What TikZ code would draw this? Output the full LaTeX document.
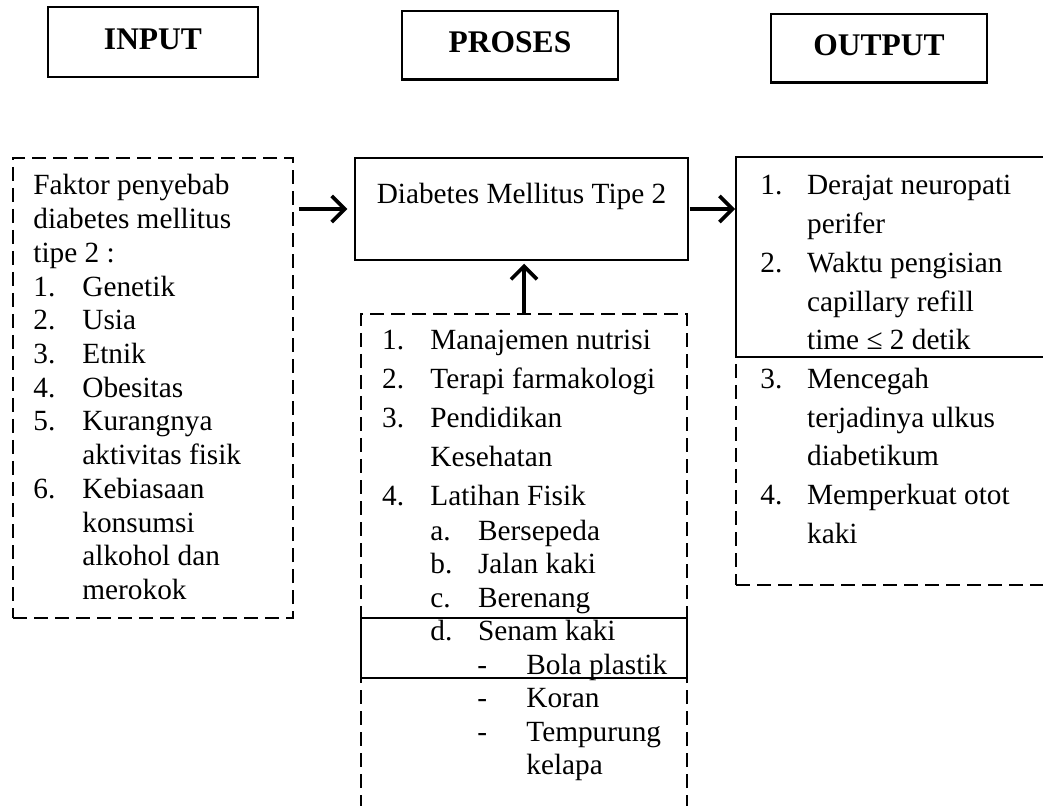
\documentclass[tikz,border=0pt]{standalone}
\usepackage{fontspec}
\setmainfont{Liberation Serif}
\usetikzlibrary{arrows.meta}
\newcommand{\numlbl}[2]{\makebox[#1][l]{#2}}
\begin{document}
\begin{tikzpicture}[x=0.5pt,y=-0.5pt,
  body/.style={anchor=base west,inner sep=0pt,font=\fontsize{14.65}{17}\selectfont},
  hdr/.style={draw,line width=1.2pt,inner sep=0pt,font=\bfseries\fontsize{15.75}{18}\selectfont,text height=7.5pt,text depth=0pt},
  solidbox/.style={draw,line width=0.75pt,inner sep=0pt},
  dashbox/.style={draw,line width=0.8pt,dash pattern=on 7pt off 3.5pt,inner sep=0pt},
  arr/.style={line width=1.8pt,-{Straight Barb[length=6.5pt,width=13pt]}}]
\useasboundingbox (0,0) rectangle (1043,806);
\clip (0,0) rectangle (1043,806);

% headers
\node[hdr,minimum width=105pt,minimum height=35pt] (hin) at (153,42) {INPUT};
\node[hdr,minimum width=108pt,minimum height=34.25pt] (hpr) at (510,45.25) {PROSES};
\node[hdr,minimum width=108pt,minimum height=34.25pt] (hout) at (879,48.25) {OUTPUT};

% boxes
\node[dashbox,minimum width=140pt,minimum height=230pt] (inp) at (153,388) {};
\node[solidbox,minimum width=166.5pt,minimum height=51pt] (dm) at (521.5,209) {};
\node[body,anchor=base] (dmt) at (521.5,203.3) {Diabetes Mellitus Tipe 2};
\node[dashbox,minimum width=163pt,minimum height=263pt] (proc) at (524,577) {};
\node[solidbox,line width=1pt,minimum width=163pt,minimum height=30pt] (senam) at (524,648) {};
\node[dashbox,minimum width=162pt,minimum height=113.75pt] (out2) at (898,471.25) {};
\node[solidbox,line width=1pt,minimum width=162pt,minimum height=100pt] (out1) at (898,257.5) {};

% arrows
\draw[arr,shorten <=2.5pt,shorten >=3.5pt] (inp.east |- dm.west) -- (dm.west);
\draw[arr,shorten <=0.5pt] (dm.east) -- (dm.east -| out1.west);
\draw[arr,shorten >=1.5pt] (proc.north) -- (proc.north |- dm.south);

% input text
\node[body] (i1) at (33,195) {Faktor penyebab};
\node[body] (i2) at (33,228.7) {diabetes mellitus};
\node[body] (i3) at (33,262.4) {tipe 2 :};
\node[body] (i4) at (33,296.1) {\numlbl{24.5pt}{1.}Genetik};
\node[body] (i5) at (33,329.8) {\numlbl{24.5pt}{2.}Usia};
\node[body] (i6) at (33,363.5) {\numlbl{24.5pt}{3.}Etnik};
\node[body] (i7) at (33,397.2) {\numlbl{24.5pt}{4.}Obesitas};
\node[body] (i8) at (33,430.9) {\numlbl{24.5pt}{5.}Kurangnya};
\node[body] (i9) at (82,464.6) {aktivitas fisik};
\node[body] (i10) at (33,498.3) {\numlbl{24.5pt}{6.}Kebiasaan};
\node[body] (i11) at (82,532) {konsumsi};
\node[body] (i12) at (82,565.7) {alkohol dan};
\node[body] (i13) at (82,599.4) {merokok};

% process text
\node[body] (p1) at (381.7,350) {\numlbl{24.15pt}{1.}Manajemen nutrisi};
\node[body] (p2) at (381.7,388.75) {\numlbl{24.15pt}{2.}Terapi farmakologi};
\node[body] (p3) at (381.7,427.5) {\numlbl{24.15pt}{3.}Pendidikan};
\node[body] (p4) at (430,466.25) {Kesehatan};
\node[body] (p5) at (381.7,505) {\numlbl{24.15pt}{4.}Latihan Fisik};
\node[body] (p6) at (430,540) {\numlbl{23.85pt}{a.}Bersepeda};
\node[body] (p7) at (430,573.5) {\numlbl{23.85pt}{b.}Jalan kaki};
\node[body] (p8) at (430,607) {\numlbl{23.85pt}{c.}Berenang};
\node[body] (p9) at (430,640.5) {\numlbl{23.85pt}{d.}Senam kaki};
\node[body] (p10) at (477,674) {\numlbl{24.5pt}{-}Bola plastik};
\node[body] (p11) at (477,707.5) {\numlbl{24.5pt}{-}Koran};
\node[body] (p12) at (477,741) {\numlbl{24.5pt}{-}Tempurung};
\node[body] (p13) at (526,774.5) {kelapa};

% output text
\node[body] (o1) at (760,195) {\numlbl{23.35pt}{1.}Derajat neuropati};
\node[body] (o2) at (806.7,233.7) {perifer};
\node[body] (o3) at (760,272.4) {\numlbl{23.35pt}{2.}Waktu pengisian};
\node[body] (o4) at (806.7,311.1) {capillary refill};
\node[body] (o5) at (806.7,349.8) {time ≤ 2 detik};
\node[body] (o6) at (760,388.5) {\numlbl{23.35pt}{3.}Mencegah};
\node[body] (o7) at (806.7,427.2) {terjadinya ulkus};
\node[body] (o8) at (806.7,465.9) {diabetikum};
\node[body] (o9) at (760,504.6) {\numlbl{23.35pt}{4.}Memperkuat otot};
\node[body] (o10) at (806.7,543.3) {kaki};
\end{tikzpicture}
\end{document}
